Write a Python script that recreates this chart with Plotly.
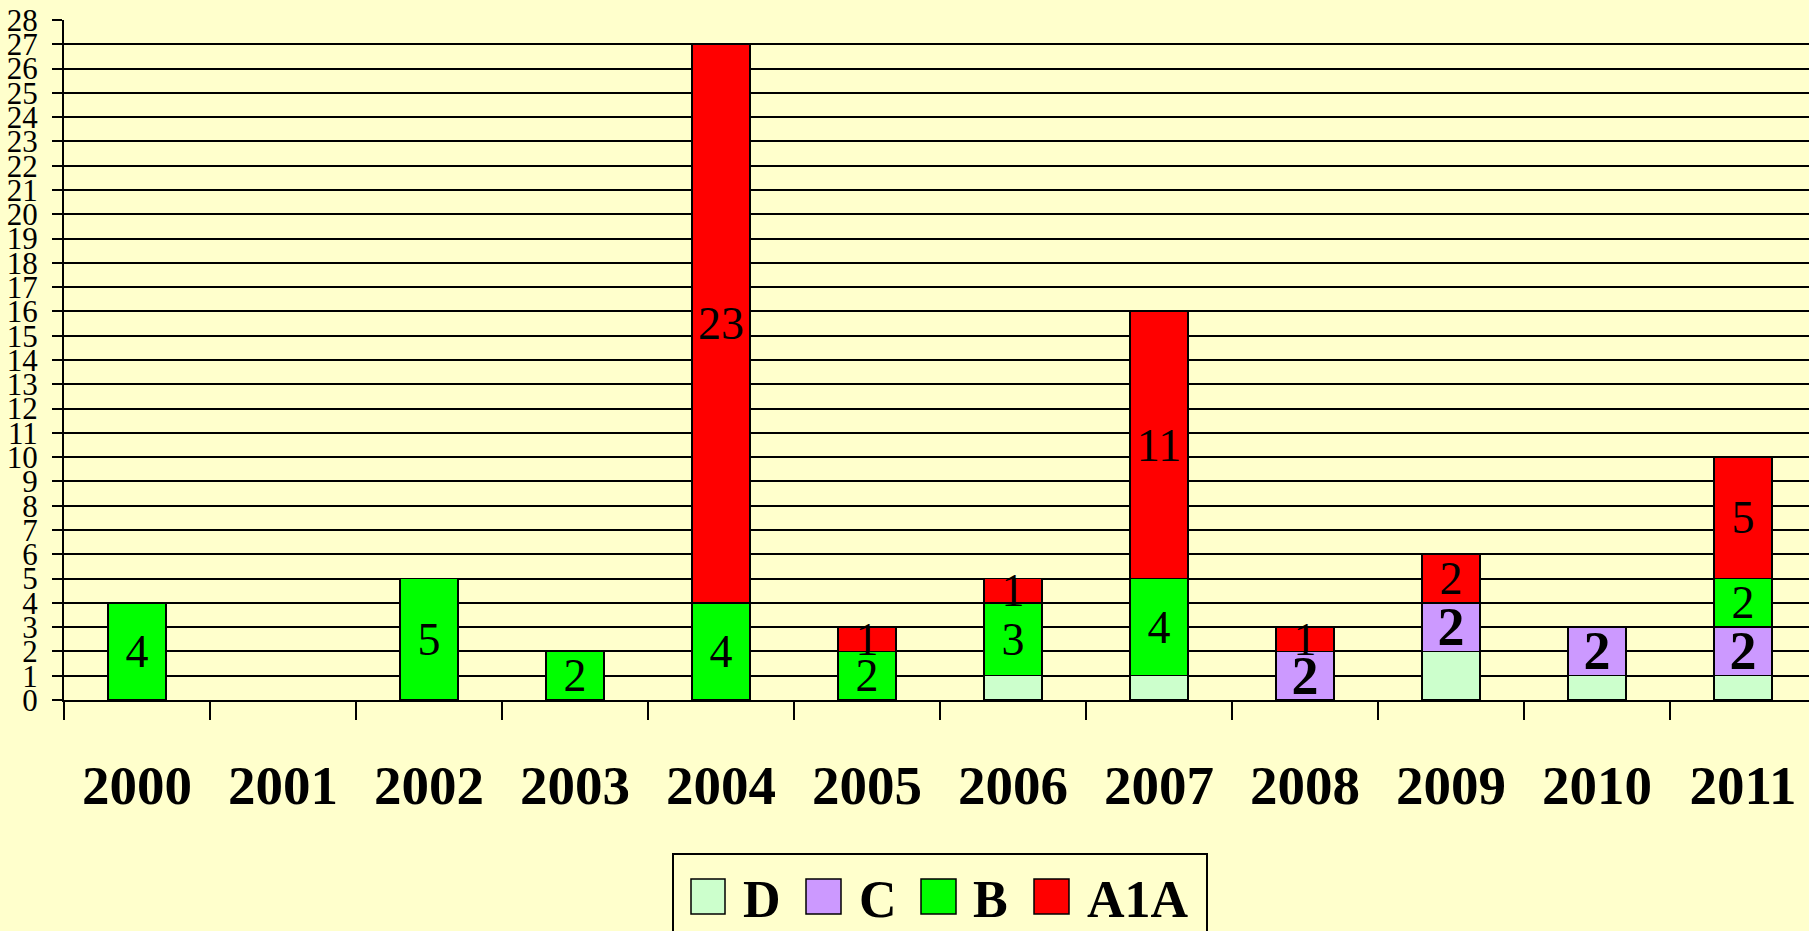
import plotly.graph_objects as go

years = [str(y) for y in range(2000, 2012)]
series_names = ["D", "C", "B", "A1A"]
d_vals = [None, None, None, None, None, None, 1, 1, None, 2, 1, 1]
c_vals = [None, None, None, None, None, None, None, None, 2, 2, 2, 2]
b_vals = [4, None, 5, 2, 4, 2, 3, 4, None, None, None, 2]
a_vals = [None, None, None, None, 23, 1, 1, 11, 1, 2, None, 5]
y_ticks = list(range(0, 29))

colors = {"D": "#CCFFCC", "C": "#CC99FF", "B": "#00FF00", "A1A": "#FF0000"}
W, H = 1809, 931
L, T, B = 64, 20, 231
PW, PH = W - L, H - T - B
FONT = "Liberation Serif"


def px(xp):
    return (xp - L) / PW


def py(yp):
    return (H - B - yp) / PH


def labels(vals):
    return [("" if v is None else str(v)) for v in vals]


fig = go.Figure()
data = {"D": d_vals, "C": c_vals, "B": b_vals, "A1A": a_vals}
for name in series_names:
    vals = data[name]
    if name == "D":
        txt = ["" for _ in vals]
        tfont = dict(family=FONT, size=46, color="black")
    elif name == "C":
        txt = labels(vals)
        tfont = dict(family=FONT, size=54, color="black", weight="bold")
    else:
        txt = labels(vals)
        tfont = dict(family=FONT, size=46, color="black")
    fig.add_trace(go.Bar(
        x=years, y=vals, name=name, width=0.4,
        marker=dict(color=colors[name], line=dict(color="black", width=1.5)),
        text=txt, textposition="inside", insidetextanchor="middle",
        textangle=0, constraintext="none", textfont=tfont,
        showlegend=False, hoverinfo="x+y+name",
    ))

fig.update_layout(
    width=W, height=H, barmode="stack",
    margin=dict(l=L, r=0, t=T, b=B, pad=0),
    paper_bgcolor="#FFFFCC", plot_bgcolor="#FFFFCC",
    font=dict(family=FONT, color="black"),
)
fig.update_xaxes(
    type="category", range=[-0.5, -0.5 + PW / 146.0],
    tickson="boundaries", ticks="outside", ticklen=18, tickwidth=2,
    tickcolor="black", showline=True, linecolor="black", linewidth=2,
    showgrid=False, tickfont=dict(family=FONT, size=55, weight="bold", color="black"),
    ticklabelstandoff=36,
)
fig.update_yaxes(
    range=[0, 28], tickmode="array", tickvals=y_ticks, ticktext=[str(v) for v in y_ticks],
    showgrid=True, gridcolor="black", gridwidth=1.6,
    showline=True, linecolor="black", linewidth=2, zeroline=False,
    ticks="outside", ticklen=10, tickwidth=1.6, tickcolor="black",
    tickfont=dict(family=FONT, size=31, color="black"), ticklabelstandoff=8,
)

# manual legend
shapes = [dict(type="rect", xref="paper", yref="paper",
               x0=px(673), x1=px(1207), y0=py(945), y1=py(854),
               line=dict(color="black", width=2), fillcolor="#FFFFCC", layer="above")]
annotations = []
legend_sq = [(691, 725), (806, 841), (921, 956), (1034, 1069)]
legend_txt = [741, 857, 971, 1085]
for name, (x0, x1), tx in zip(series_names, legend_sq, legend_txt):
    shapes.append(dict(type="rect", xref="paper", yref="paper",
                       x0=px(x0), x1=px(x1), y0=py(914), y1=py(879),
                       line=dict(color="black", width=1.5), fillcolor=colors[name], layer="above"))
    annotations.append(dict(xref="paper", yref="paper", x=px(tx), y=py(899),
                            xanchor="left", yanchor="middle", showarrow=False,
                            text="<b>%s</b>" % name,
                            font=dict(family=FONT, size=52, color="black")))
fig.update_layout(shapes=shapes, annotations=annotations)

fig.write_html("out.html", config={"displayModeBar": False},
               post_script="document.body.style.margin='0';document.body.style.overflow='hidden';")
